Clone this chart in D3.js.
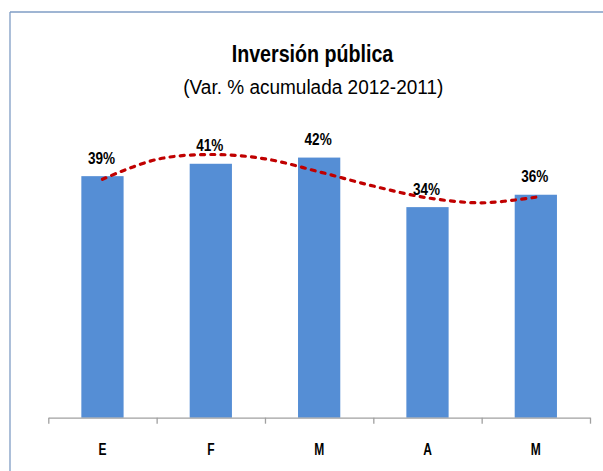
<!DOCTYPE html>
<html>
<head>
<meta charset="utf-8">
<script src="https://cdn.jsdelivr.net/npm/d3@7"></script>
<style>
  html, body { margin: 0; padding: 0; background: #ffffff; overflow: hidden; }
  svg { display: block; }
  text { font-family: "Liberation Sans", Arial, sans-serif; fill: #000; }
</style>
</head>
<body>
<svg id="chart" width="603" height="471"></svg>
<script>
// Monthly categories (January–May)
const months = ["E", "F", "M", "A", "M"];
const monthKeys = ["ene", "feb", "mar", "abr", "may"];
// Cumulative % change 2012 vs 2011
const values = [39, 41, 42, 34, 36];
// Trend curve, sampled every half month (index 0 = January)
const trendIndex = [0, 0.5, 1, 1.5, 2, 2.5, 3, 3.5, 4];
const trendValues = [38.5, 41.7, 42.5, 41.8, 39.7, 37.4, 35.5, 34.7, 35.6];

const title = "Inversión pública";
const subtitle = "(Var. %  acumulada 2012-2011)";

const svg = d3.select("#chart");
const W = 603, H = 471;

// Frame of the chart area: left edge and top edge
svg.append("line")
  .attr("x1", 10).attr("x2", 10).attr("y1", 12).attr("y2", H)
  .attr("stroke", "#7f9cc4").attr("stroke-width", 1.3);
svg.append("line")
  .attr("x1", 10).attr("x2", W).attr("y1", 12).attr("y2", 12)
  .attr("stroke", "#7f9cc4").attr("stroke-width", 1.3);

// Squeeze text horizontally so the wide fallback font reads like a narrow one
function condense(sel, k) {
  sel.each(function () {
    const w = this.getComputedTextLength();
    d3.select(this).attr("textLength", w * k).attr("lengthAdjust", "spacingAndGlyphs");
  });
}

const plotLeft = 48.3, plotRight = 590, plotBase = 417.7, plotTop = 139;

const x = d3.scaleBand()
  .domain(monthKeys)
  .range([plotLeft, plotRight])
  .paddingInner(0.61)
  .paddingOuter(0.305);

const xi = d3.scaleLinear().domain([0, months.length - 1])
  .range([x(monthKeys[0]) + x.bandwidth() / 2, x(monthKeys[monthKeys.length - 1]) + x.bandwidth() / 2]);

const y = d3.scaleLinear().domain([0, 45]).range([plotBase, plotTop]);

// Bars
svg.append("g").selectAll("rect")
  .data(values)
  .join("rect")
  .attr("x", (d, i) => x(monthKeys[i]))
  .attr("y", d => y(d))
  .attr("width", x.bandwidth())
  .attr("height", d => plotBase - y(d))
  .attr("fill", "#558ed5");

// Category axis: boundary ticks
const edges = d3.scaleLinear().domain([0, months.length]).range([plotLeft, plotRight]);
const axisG = svg.append("g")
  .attr("transform", `translate(0,${plotBase})`)
  .call(d3.axisBottom(edges).ticks(months.length).tickFormat("").tickSize(6).tickSizeOuter(0));
axisG.select(".domain").attr("stroke", "#a0a0a0").attr("stroke-width", 1.3);
axisG.selectAll(".tick line").attr("stroke", "#a0a0a0").attr("stroke-width", 1.3);

// Category labels
const labAxis = svg.append("g")
  .attr("transform", `translate(0,${plotBase})`)
  .call(d3.axisBottom(x).tickSize(0).tickFormat((d, i) => months[i]));
labAxis.select(".domain").remove();
labAxis.selectAll("text")
  .attr("y", 37).attr("dy", 0)
  .style("font-family", "'Liberation Sans', Arial, sans-serif")
  .style("font-size", "16px")
  .style("font-weight", "bold")
  .attr("fill", "#000");
condense(labAxis.selectAll("text"), 0.75);

// Trend curve
const line = d3.line()
  .x((d, i) => xi(trendIndex[i]))
  .y(d => y(d))
  .curve(d3.curveCatmullRom.alpha(0.5));
svg.append("path")
  .datum(trendValues)
  .attr("d", line)
  .attr("fill", "none")
  .attr("stroke", "#c00000")
  .attr("stroke-width", 3.2)
  .attr("stroke-linecap", "round")
  .attr("stroke-dasharray", "4,6.2");

// Value labels
const vlabels = svg.append("g").selectAll("text")
  .data(values)
  .join("text")
  .attr("x", (d, i) => x(monthKeys[i]) + x.bandwidth() / 2 - 1)
  .attr("y", d => y(d) - 12.5)
  .attr("text-anchor", "middle")
  .style("font-size", "16.5px")
  .style("font-weight", "bold")
  .text(d => d + "%");
condense(vlabels, 0.82);

// Titles
const t1 = svg.append("text")
  .attr("x", 312.5).attr("y", 62)
  .attr("text-anchor", "middle")
  .style("font-size", "23px")
  .style("font-weight", "bold")
  .text(title);
t1.attr("textLength", 161.6).attr("lengthAdjust", "spacingAndGlyphs");

const t2 = svg.append("text")
  .attr("x", 313.3).attr("y", 94)
  .attr("text-anchor", "middle")
  .style("font-size", "19.5px")
  .text(subtitle);
t2.attr("textLength", 260).attr("lengthAdjust", "spacingAndGlyphs");
</script>
</body>
</html>
